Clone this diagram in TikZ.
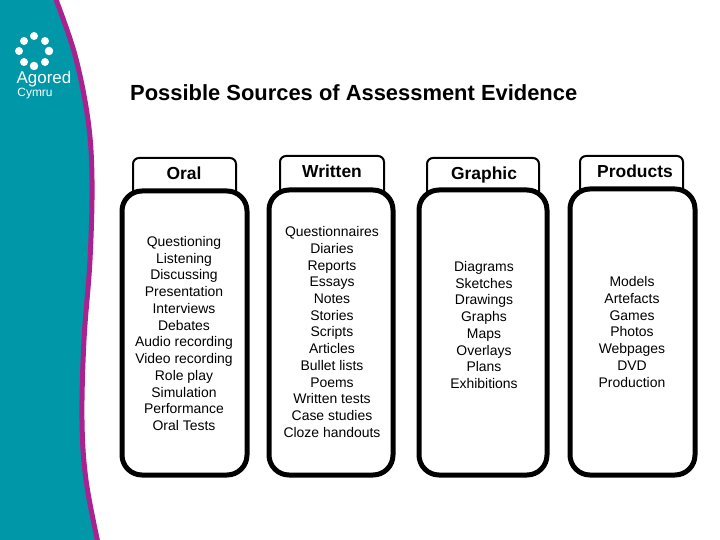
\documentclass[tikz,border=0pt]{standalone}
\usepackage{fontspec}
\setmainfont{Liberation Sans}
\definecolor{teal1}{HTML}{0097A9}
\definecolor{purp}{HTML}{A9228F}
\tikzset{
 x=1bp,y=-1bp,
 bodybox/.style={draw=black,line width=5bp,rounded corners=20bp,fill=white},
 tabbox/.style={draw=black,line width=2bp,rounded corners=6bp,fill=white},
 tabtext/.style={font=\fontsize{17.5}{20}\selectfont\bfseries,inner sep=0pt,anchor=base},
 listtext/.style={font=\fontsize{14}{16.8}\selectfont,align=center,inner sep=0pt,anchor=center},
 dot/.style={circle,fill=white,inner sep=0pt,minimum size=#1},
}
\begin{document}
\begin{tikzpicture}
\useasboundingbox (0,0) rectangle (720,540);
\fill[teal1] (0,0) -- (56,0) -- plot[smooth,tension=0.6] coordinates {(56,0) (75,55) (88,120) (92,180) (90,260) (84,340) (82,420) (86,480) (97,540)} -- (0,540) -- cycle;
\draw[purp,line width=5bp] plot[smooth,tension=0.6] coordinates {(55,-3) (75,55) (88,120) (92,180) (90,260) (84,340) (82,420) (86,480) (98,543)};
\foreach \i/\p/\q/\s in {a/34/36/8bp,b/45/41/8bp,c/49/51/8.5bp,d/45/62/8bp,e/34/66/8.5bp,f/24/62/8bp,g/19/51/8bp,h/24/41/8bp}
  \node[dot=\s] (\i) at (\p,\q) {};
\node[text=white,font=\fontsize{17}{17}\selectfont,inner sep=0pt] (lg) at (44,79) {Agored};
\node[text=white,font=\fontsize{12}{12}\selectfont,inner sep=0pt] (lg2) at (35,94) {Cymru};
\node[font=\fontsize{22}{26}\selectfont\bfseries,inner sep=0pt,anchor=west] (title) at (130,93) {Possible Sources of Assessment Evidence};
% tabs
\draw[tabbox] (133,192) -- (133,158) -- (236,158) -- (236,192);
\draw[tabbox] (280,192) -- (280,156) -- (384,156) -- (384,192);
\draw[tabbox] (427,192) -- (427,158) -- (539,158) -- (539,192);
\draw[tabbox] (580,192) -- (580,156) -- (683,156) -- (683,192);
% bodies
\draw[bodybox] (122,191) rectangle (247,475);
\draw[bodybox] (269,190) rectangle (393,475);
\draw[bodybox] (419,190) rectangle (547,475);
\draw[bodybox] (570,189) rectangle (695,475);
\node[tabtext] (t1) at (184,179.5) {Oral};
\node[tabtext] (t2) at (332,178) {Written};
\node[tabtext] (t3) at (484,179.5) {Graphic};
\node[tabtext] (t4) at (635,178) {Products};
\node[listtext] (l1) at (184,333.5) {Questioning\\Listening\\Discussing\\Presentation\\Interviews\\Debates\\Audio recording\\Video recording\\Role play\\Simulation\\Performance\\Oral Tests};
\node[listtext] (l2) at (332,332) {Questionnaires\\Diaries\\Reports\\Essays\\Notes\\Stories\\Scripts\\Articles\\Bullet lists\\Poems\\Written tests\\Case studies\\Cloze handouts};
\node[listtext] (l3) at (484,325) {Diagrams\\Sketches\\Drawings\\Graphs\\Maps\\Overlays\\Plans\\Exhibitions};
\node[listtext] (l4) at (632,332) {Models\\Artefacts\\Games\\Photos\\Webpages\\DVD\\Production};
\end{tikzpicture}
\end{document}
